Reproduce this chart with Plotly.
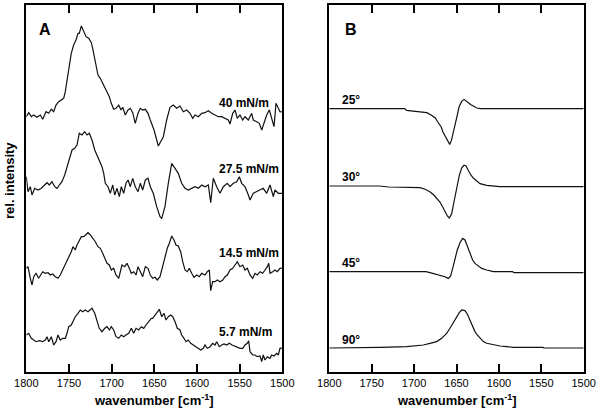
import plotly.graph_objects as go

# ---------------- Panel A: measured spectra (wavenumber, rel. intensity) ----------------
wn_40 = [1800, 1797.2, 1794.1, 1791.3, 1787.5, 1783.6, 1780.8, 1776.9, 1773.7, 1770.7, 1767.9, 1765.2, 1762.0, 1759.0,
         1756.2, 1754.3, 1752.3, 1749.6, 1747.3, 1744.5, 1741.8, 1739.4, 1737.9, 1735.5, 1732.7, 1730.0, 1726.9, 1723.8,
         1722.2, 1719.8, 1718.3, 1716.0, 1713.3, 1710.5, 1707.4, 1705.4, 1702.7, 1700.4, 1697.6, 1694.9, 1691.7, 1689.0,
         1687.0, 1684.0, 1680.8, 1678.1, 1675.3, 1672.3, 1669.1, 1666.4, 1663.6, 1660.5, 1657.4, 1654.7, 1650.3, 1645.3,
         1639.4, 1635.5, 1631.6, 1627.7, 1623.7, 1619.9, 1616.0, 1612.0, 1608.2, 1605.0, 1602.3, 1598.4, 1594.4, 1590.6,
         1586.7, 1582.7, 1578.9, 1575.0, 1571.0, 1567.1, 1563.3, 1561.3, 1558.1, 1555.4, 1552.7, 1549.6, 1546.4, 1543.7,
         1539.8, 1535.9, 1534.0, 1530.0, 1527.0, 1524.1, 1521.4, 1518.3, 1515.2, 1512.4, 1509.7, 1507.4, 1505.4, 1502.7,
         1500]
int_40 = [-1.7, 2.3, -1.7, 0, -2.3, 0, -4.3, 3.3, 1.7, 5.7, 3.3, 10, 13.3, 15, 16.7, 23.3, 35, 48.3, 61.7, 70, 75, 81.7,
          81.7, 89, 83.3, 78.3, 76.7, 72.3, 66.7, 56.7, 48.3, 40, 36.7, 31.7, 26.7, 23.3, 18.3, 11.7, 5.7, 6.7, 10, 5,
          7.7, 0, 5, 6.7, 2.3, -8.3, 1.7, 6.7, 5, 5.7, 1.7, -5, -15, -31, -21.7, -5, 7.7, 10, 6.7, 9, 3.3, 5, 1.7, -3.3,
          0, -1.7, 1.7, 2.3, 4.3, 1.7, 0, -1.7, -1.7, -3.3, -5, -9, 1.7, 5, -3.3, 0, -5, -1.7, -5, 1.7, -5, -6.7, -8.3,
          -15, -6.7, 0, 5, -3.3, -11.7, 11.7, 8.3, 3.3, 3]

wn_275 = [1800, 1798.0, 1795.3, 1793.3, 1790.2, 1786.3, 1782.4, 1778.4, 1775.7, 1773.0, 1769.9, 1766.7, 1764.0, 1761.3,
          1758.2, 1755.0, 1752.3, 1749.6, 1746.4, 1743.3, 1740.6, 1737.9, 1734.7, 1731.6, 1728.9, 1726.2, 1723.0, 1719.8,
          1717.1, 1714.5, 1711.3, 1709.3, 1707.4, 1704.3, 1701.6, 1698.7, 1696.4, 1693.7, 1691.0, 1688.7, 1685.9, 1683.2,
          1680.8, 1678.1, 1675.3, 1672.3, 1669.1, 1666.4, 1663.6, 1660.5, 1657.4, 1654.7, 1651.2, 1647.2, 1643.3, 1641.3,
          1637.5, 1633.6, 1629.6, 1625.7, 1621.9, 1617.9, 1614.0, 1610.2, 1606.2, 1602.3, 1598.4, 1594.4, 1590.6, 1586.7,
          1583.9, 1580.9, 1576.9, 1573.0, 1569.1, 1564.5, 1561.3, 1557.4, 1553.4, 1550.4, 1547.6, 1543.7, 1539.8, 1537.8,
          1534.0, 1530.0, 1526.1, 1522.3, 1518.3, 1514.4, 1510.5, 1508.6, 1504.7, 1501.9, 1500]
int_275 = [1.3, -13.7, -8.7, -17, -10.3, -12, -10.3, -7, -4.7, -7, -3.7, -8.7, -10.3, -7, -3.7, 3, 11.3, 18, 28, 29.7,
           33, 44.7, 43, 46.3, 43, 44.7, 38, 28, 23, 18, 11.3, 4.7, -5.3, -8.7, -15.3, -7, -17, -10.3, -18.7, -8.7,
           -15.3, -5.3, -2, -8.7, -0.3, -8.7, -13.7, -5.3, -12, -2, -0.3, -8.7, -15.3, -28.7, -38.7, -40.3, -28.7, -5.3,
           14.7, 9.7, 4.7, -5.3, -10.3, -12, -10.3, -8.7, -10.3, -7, -8.7, -7, -24.7, -0.3, -8.7, -15.3, -8.7, -5.3,
           -8.7, -5.3, -3.7, 1.3, -5.3, -8.7, -17, -22, -15.3, -13.7, -12, -10.3, -15.3, -7, -18.7, -12, -15.3, -15.3,
           -15.3]

wn_145 = [1800, 1798.0, 1795.3, 1793.3, 1791.3, 1788.6, 1785.5, 1783.6, 1780.8, 1777.7, 1774.6, 1771.9, 1769.1, 1766.0,
          1762.9, 1760.2, 1757.3, 1755.0, 1752.3, 1749.6, 1747.3, 1745.3, 1742.6, 1740.6, 1737.9, 1735.5, 1732.7, 1730.0,
          1727.7, 1725.0, 1722.2, 1719.1, 1716.0, 1713.3, 1710.5, 1708.1, 1705.4, 1702.7, 1700.4, 1697.6, 1694.9, 1691.7,
          1689.8, 1687.9, 1684.7, 1682.0, 1679.3, 1677.0, 1674.1, 1671.4, 1669.1, 1666.4, 1663.6, 1660.5, 1657.4, 1654.7,
          1651.9, 1649.2, 1646.5, 1643.3, 1640.2, 1637.5, 1634.8, 1632.4, 1629.6, 1626.9, 1624.6, 1621.9, 1619.1, 1616.7,
          1614.0, 1611.3, 1609.0, 1606.2, 1603.5, 1600.3, 1597.3, 1594.4, 1590.6, 1587.9, 1585.5, 1583.9, 1581.6, 1578.9,
          1576.2, 1573.0, 1569.8, 1567.1, 1564.4, 1561.3, 1558.1, 1555.4, 1552.7, 1549.6, 1546.4, 1543.7, 1541.0, 1537.8,
          1534.7, 1532.0, 1529.3, 1526.1, 1523.0, 1520.3, 1517.6, 1515.9, 1514.4, 1511.2, 1508.6, 1505.9, 1502.7, 1500]
int_145 = [6.7, 8.3, -3.3, -10, -1.7, 1.7, -3.3, 0, 3.3, 1.7, 2.3, 0, 1, -1.7, -3.3, 0, 5, 10, 15, 18.3, 23.3, 28.3,
           25, 30, 35, 38.3, 38.3, 40, 42.3, 40, 36.7, 33.3, 28.3, 26.7, 21.7, 16.7, 11.7, 10, 5, 6.7, 0, -3.3, 5, 10,
           8.3, 11.7, 6.7, 1.7, 3.3, 0, 8.3, 3.3, -1.7, 8.3, 6.7, 0, -3.3, -2.3, -5, -1.7, 8.3, 18.3, 26.7, 31.7, 39,
           35, 30, 29, 23.3, 13.3, 5, 3.3, 6.7, 1.7, -2.3, 0, -1.7, 1.7, 0, 3.3, 5, -15.7, -6.7, -6.7, -5, -6.7, -5,
           -1.7, 0, 5, 6.7, 10, 13.3, 8.3, 10, 5, 6.7, 0, -3.3, 1.7, 0, 3.3, 1.7, 5, 8.3, 11.7, 1.7, 3.3, 5, 3.3, 6.7, 7]

wn_57 = [1800, 1797.2, 1794.1, 1791.3, 1788.6, 1784.8, 1780.8, 1777.7, 1775.7, 1773.7, 1770.7, 1767.9, 1765.2, 1762.9,
         1760.2, 1757.3, 1754.3, 1752.3, 1750.3, 1747.3, 1744.5, 1742.6, 1739.4, 1736.7, 1733.9, 1730.9, 1727.7, 1725.0,
         1723.0, 1719.8, 1717.1, 1714.5, 1711.3, 1708.1, 1705.4, 1702.7, 1700.4, 1697.6, 1694.9, 1691.7, 1688.7, 1685.9,
         1683.2, 1680.0, 1676.9, 1674.1, 1671.4, 1668.3, 1665.2, 1662.4, 1659.7, 1656.6, 1653.5, 1651.9, 1649.2, 1646.5,
         1644.1, 1641.3, 1638.6, 1636.3, 1633.6, 1630.8, 1628.4, 1625.7, 1623.0, 1619.9, 1617.9, 1615.2, 1612.9, 1610.2,
         1607.3, 1604.3, 1601.1, 1598.4, 1595.6, 1592.6, 1590.6, 1587.9, 1584.7, 1581.6, 1578.9, 1576.9, 1573.8, 1571.0,
         1568.3, 1565.2, 1562.1, 1558.9, 1555.4, 1552.7, 1549.6, 1546.4, 1543.7, 1541.0, 1539.4, 1537.8, 1534.7, 1532.0,
         1529.3, 1526.1, 1524.1, 1522.3, 1520.3, 1517.6, 1514.4, 1512.4, 1509.7, 1506.6, 1504.7, 1502.7, 1500]
int_57 = [5, 6.7, 1.7, 0, -1.7, -0.7, -1.7, 0, 3.3, -1.7, 3.3, -5, -1.7, 5, 0, 1.7, 1.7, 6.7, 13.3, 15, 20, 23.3, 26.7,
          30, 28.3, 30, 28.3, 30, 31.7, 26.7, 18.3, 11.7, 8.3, 11.7, 13.3, 10, 13.3, 10, 3.3, 1.7, 5, 3.3, 5, 6.7, 11.7,
          6.7, 11.7, 10, 13.3, 11.7, 15, 18.3, 21.7, 21.7, 25, 28.3, 30.7, 23.3, 26.7, 20, 23.3, 25, 23.3, 18.3, 11.7,
          10, 5, 1.7, -1.7, 0, -3.3, -5, -6.7, -8.3, -10, -8.3, -5, -8.3, -6.7, -3.3, -5, -1.7, -6.7, -5, -4, -5, -3.3,
          -5, -6, -6.7, -8.3, -8.3, -5, -3.3, -0.7, -11.7, -15, -15, -16.7, -16, -21.7, -15, -20, -16.7, -18.3, -15,
          -16, -13.3, -15, -8.3, -8]

labels_a = ["40 mN/m", "27.5 mN/m", "14.5 mN/m", "5.7 mN/m"]
offsets_a = [257, 194, 97, 32]

# ---------------- Panel B: simulated spectra ----------------
wn_25 = [1800, 1711, 1709, 1701, 1693, 1685, 1679, 1675, 1672, 1668, 1666, 1662, 1660, 1658, 1656, 1653, 1650, 1647,
         1644, 1641, 1639, 1636, 1633, 1630, 1626, 1622, 1500]
int_25 = [0, 0, -1.7, -2.3, -2.7, -4, -6.7, -9.3, -13.3, -18.3, -23.3, -29.3, -33.3, -35.7, -31.7, -21.7, -10, 1.7, 7.3,
          9.3, 8.3, 6, 4, 2.3, 0.7, 0, 0]

wn_30 = [1800, 1741, 1730, 1693, 1687, 1681, 1676.5, 1672.6, 1669.5, 1666.3, 1663.6, 1660.8, 1658.5, 1655.7, 1653,
         1649.8, 1646.7, 1643.9, 1641.2, 1638.8, 1636.1, 1633.3, 1630.2, 1626.2, 1622.3, 1614.4, 1606.6, 1601, 1599, 1500]
int_30 = [0, 0, -1, -1.7, -3.3, -6, -9.3, -12.7, -16, -21, -26, -30, -32, -27.7, -16, -2.7, 10.7, 18, 20.7, 20, 15.7,
          11.3, 8, 4.7, 2.3, 0.7, 0, 0, -0.7, -0.7]

wn_45 = [1800, 1686, 1681.3, 1675.4, 1669.5, 1663.6, 1659.7, 1656.9, 1654.5, 1651.8, 1649.1, 1645.9, 1642.7, 1640,
         1637.3, 1634.1, 1631, 1628.2, 1624.3, 1620.3, 1614.4, 1606.6, 1584, 1582, 1500]
int_45 = [0, 0, -1, -2.3, -3.3, -5, -6.7, -4.3, 3.3, 13.3, 21.7, 29, 33.3, 31.7, 25.7, 18.3, 11.7, 8.3, 5.7, 3.3, 1.7,
          0, 0, -1, -1]

wn_90 = [1800, 1776, 1775, 1740, 1708.7, 1696.9, 1689.1, 1681.3, 1673.4, 1667.5, 1661.6, 1657.7, 1653.8, 1649.8,
         1646.7, 1643.9, 1640, 1637.3, 1634.1, 1631, 1628.2, 1625.5, 1622.3, 1618.4, 1614.4, 1606.6, 1598.7, 1590.9,
         1583, 1548, 1547, 1500]
int_90 = [-0.7, -0.7, 0, 0, 0.7, 1.7, 2.3, 4, 5.7, 9, 14, 19, 24.7, 30.7, 34.7, 37.3, 36.7, 33.3, 27.3, 20.7, 15.7,
          12.3, 9, 5.7, 4, 2.3, 1.3, 0.7, 0, 0, -0.7, -0.7]

labels_b = ["25°", "30°", "45°", "90°"]
offsets_b = [263.3, 186, 100.3, 24.7]

x_ticks = [1800, 1750, 1700, 1650, 1600, 1550, 1500]

# ---------------- figure ----------------
FONT = "Arial, Liberation Sans, Helvetica, sans-serif"
LINE = dict(color="#111111", width=1.2)

fig = go.Figure()

series_a = [(wn_40, int_40), (wn_275, int_275), (wn_145, int_145), (wn_57, int_57)]
for (wn, it), off, lab in zip(series_a, offsets_a, labels_a):
    fig.add_trace(go.Scatter(x=wn, y=[v + off for v in it], mode="lines", line=LINE,
                             name=lab, showlegend=False, xaxis="x", yaxis="y", hoverinfo="skip"))

series_b = [(wn_25, int_25), (wn_30, int_30), (wn_45, int_45), (wn_90, int_90)]
for (wn, it), off, lab in zip(series_b, offsets_b, labels_b):
    fig.add_trace(go.Scatter(x=wn, y=[v + off for v in it], mode="lines", line=LINE,
                             name=lab, showlegend=False, xaxis="x2", yaxis="y2", hoverinfo="skip"))

W, H = 600, 410
ybot, ytop = 372, 5
dom_y = [(H - ybot) / H, (H - ytop) / H]
dom_a = [26.3 / W, 282.3 / W]
dom_b = [329.3 / W, 583.7 / W]

xcommon = dict(range=[1800, 1500], tickvals=x_ticks, ticks="inside", ticklen=8, tickwidth=1.5,
               tickcolor="black", showline=True, linewidth=1.5, linecolor="black", mirror="allticks",
               showgrid=False, zeroline=False, automargin=False,
               tickfont=dict(family=FONT, size=11, color="black"))
ycommon = dict(range=[0, ybot - ytop], showline=True, linewidth=1.5, linecolor="black", mirror=True,
               showticklabels=False, ticks="", showgrid=False, zeroline=False, automargin=False, domain=dom_y)

fig.update_layout(
    template="none",
    width=W, height=H, margin=dict(l=0, r=0, t=0, b=0, pad=0), autosize=False,
    paper_bgcolor="white", plot_bgcolor="white", showlegend=False,
    xaxis=dict(domain=dom_a, anchor="y", **xcommon),
    yaxis=dict(anchor="x", **ycommon),
    xaxis2=dict(domain=dom_b, anchor="y2", **xcommon),
    yaxis2=dict(anchor="x2", **ycommon),
)

ann = []
# trace labels, panel A
pos_a = [269.3, 203, 119.3, 40.3]
for lab, yy in zip(labels_a, pos_a):
    ann.append(dict(x=1576.5, y=yy, xref="x", yref="y", text=lab, showarrow=False, xanchor="left",
                    yanchor="middle", font=dict(family=FONT, size=12, color="black", weight="bold")))
# trace labels, panel B
pos_b = [272, 195.3, 109, 32]
for lab, yy in zip(labels_b, pos_b):
    ann.append(dict(x=1787.5, y=yy, xref="x2", yref="y2", text=lab, showarrow=False, xanchor="left",
                    yanchor="middle", font=dict(family=FONT, size=12, color="black", weight="bold")))
# panel letters
for letter, px in (("A", 45), ("B", 351)):
    ann.append(dict(x=px / W, y=(H - 30) / H, xref="paper", yref="paper", text=letter, showarrow=False,
                    xanchor="center", yanchor="middle", font=dict(family=FONT, size=16, color="black", weight="bold")))
# axis titles
for cx in (154.3, 456.5):
    ann.append(dict(x=cx / W, y=(H - 400) / H, xref="paper", yref="paper",
                    text="wavenumber [cm<sup>-1</sup>]", showarrow=False, xanchor="center", yanchor="middle",
                    font=dict(family=FONT, size=13, color="black", weight="bold")))
ann.append(dict(x=10 / W, y=(H - 181) / H, xref="paper", yref="paper", text="rel. intensity", textangle=-90,
                showarrow=False, xanchor="center", yanchor="middle",
                font=dict(family=FONT, size=13, color="black", weight="bold")))
fig.update_layout(annotations=ann)

fig.write_html("out.html", config={"responsive": False, "displayModeBar": False},
               post_script="document.body.style.margin='0';document.body.style.overflow='hidden';")
